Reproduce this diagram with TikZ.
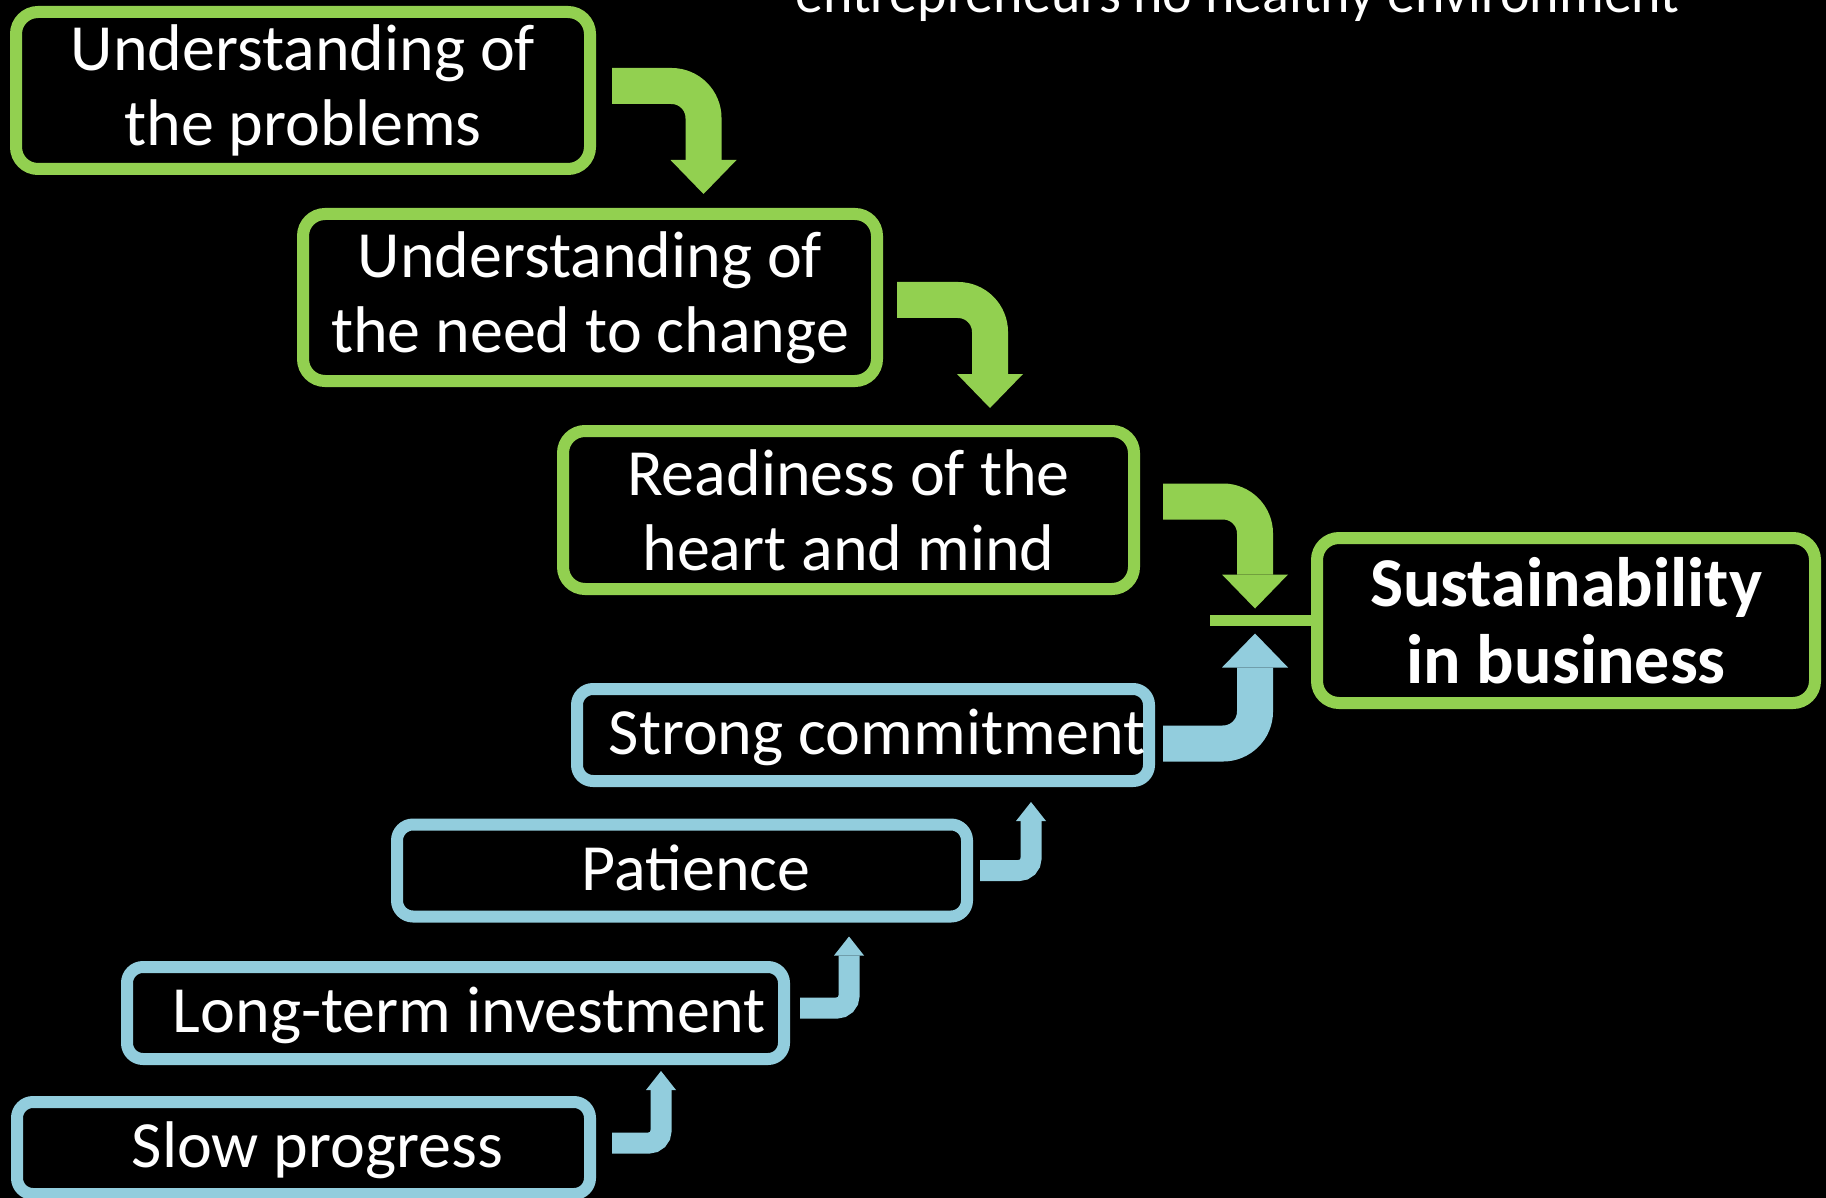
\documentclass[tikz,border=0pt]{standalone}
\usepackage{fontspec}
\setmainfont{Carlito}
\usepackage{tikz}
\usetikzlibrary{calc, arrows.meta, positioning}

\definecolor{stepgreen}{RGB}{146,208,80}
\definecolor{stepblue}{RGB}{146,205,221}

\begin{document}
\begin{tikzpicture}[x=0.5pt, y=-0.5pt,
    gbox/.style={draw=stepgreen, line width=6pt, rounded corners=11pt, text=white, align=center,
        inner sep=0pt, font=\fontsize{33}{37.5}\selectfont},
    bbox/.style={draw=stepblue, line width=6pt, rounded corners=8pt, text=white, inner sep=0pt,
        minimum height=46pt, text height=27.5pt, text depth=8pt,
        font=\fontsize{33}{37.5}\selectfont, execute at begin node=\hspace*{14pt}},
    garrow/.style={stepgreen, line width=18pt, rounded corners=16pt,
        -{Triangle[length=17pt, width=33pt, line width=0pt]}},
    barrow/.style={stepblue, line width=10.5pt, rounded corners=6pt,
        -{Triangle[length=9.5pt, width=15pt, line width=0pt]}}]
    \useasboundingbox (0, 0) rectangle (1826, 1198);
    \clip (0, 0) rectangle (1826, 1198);
    \fill[black] (0, 0) rectangle (1826, 1198);

    % heading, cut off by the top edge
    \node[anchor=base, text=white, inner sep=0pt, font=\fontsize{28}{30}\selectfont] (hdr) at (1237.5, 13) {entrepreneurs no healthy environment};

    % green steps
    \node[gbox, minimum width=287pt, minimum height=78.5pt] (prob) at (303, 90.5) {Understanding of\\the problems};
    \node[gbox, minimum width=287pt, minimum height=83.5pt] (need) at (590, 297.5) {Understanding of\\the need to change};
    \node[gbox, minimum width=285.5pt, minimum height=79pt] (ready) at (848.5, 510) {Readiness of the\\heart and mind};
    \node[gbox, minimum width=249pt, minimum height=82.5pt, font=\bfseries\fontsize{35}{38.5}\selectfont] (sust) at (1566, 620.5) {Sustainability\\in business};

    % blue steps
    \node[bbox, minimum width=286pt] (commit) at (863, 735) {Strong commitment};
    \node[bbox, minimum width=285pt] (patience) at (682, 870.5) {Patience};
    \node[bbox, minimum width=328.5pt] (invest) at (455.5, 1013) {Long-term investment};
    \node[bbox, minimum width=286.5pt] (slow) at (303.5, 1148) {Slow progress};

    \coordinate (join) at ([xshift=-50.5pt]sust.west);
    \draw[stepgreen, line width=5.5pt] (join) -- (sust.west);

    \draw[garrow] ([xshift=8pt, yshift=2.25pt]prob.east) -| ([xshift=56.75pt, yshift=7pt]need.north);
    \draw[garrow] ([xshift=7pt, yshift=-1.25pt]need.east) -| ([xshift=70.75pt, yshift=8.5pt]ready.north);
    \draw[garrow] ([xshift=11.5pt, yshift=4.25pt]ready.east) -| ([xshift=22.5pt, yshift=6pt]join);
    \draw[garrow, stepblue] ([xshift=4pt, yshift=-4.25pt]commit.east) -| ([xshift=22.5pt, yshift=-6.5pt]join);

    \draw[barrow] ([xshift=8pt, yshift=2.5pt]slow.east) -| ([xshift=102.75pt, yshift=-3pt]invest.south);
    \draw[barrow] ([xshift=5pt, yshift=2.5pt]invest.east) -| ([xshift=83.5pt, yshift=-7pt]patience.south);
    \draw[barrow] ([xshift=3.5pt]patience.east) -| ([xshift=84pt, yshift=-7.5pt]commit.south);
\end{tikzpicture}
\end{document}
